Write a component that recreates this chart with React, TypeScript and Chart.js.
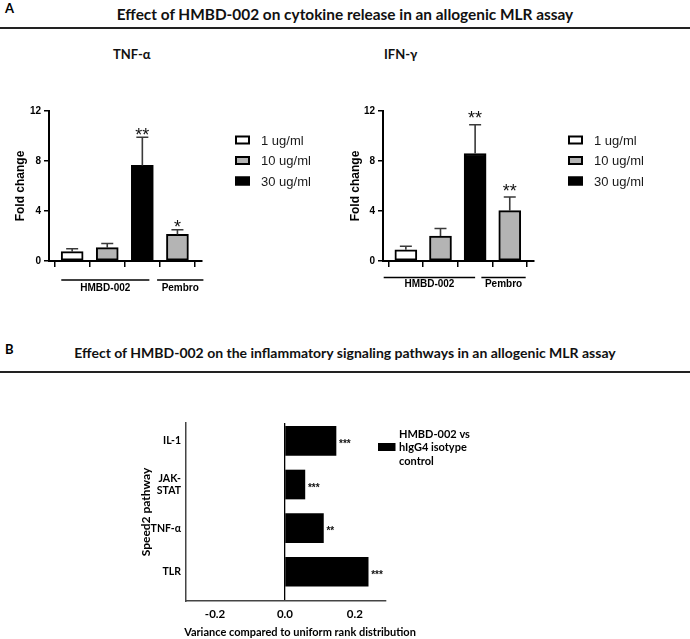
import React, { useEffect, useRef } from 'react';
import { Chart, registerables } from 'chart.js';

Chart.register(...registerables);

// ---------- Panel A data ----------
const concentrationLabels = ['1 ug/ml', '10 ug/ml', '30 ug/ml'];
const concentrationColors = ['#ffffff', '#b4b4b4', '#000000'];
const barCategories = ['HMBD-002 1 ug/ml', 'HMBD-002 10 ug/ml', 'HMBD-002 30 ug/ml', 'Pembro 10 ug/ml'];
const barConcentration = [0, 1, 2, 1];
const groupLabels = ['HMBD-002', 'Pembro'];
const foldTicks = [0, 4, 8, 12];

const tnfMeans = [0.75, 1.07, 7.65, 2.13];
const tnfErrors = [0.23, 0.33, 2.25, 0.37];
const tnfStars = ['', '', '**', '*'];

const ifnMeans = [0.9, 2.0, 8.6, 4.03];
const ifnErrors = [0.28, 0.6, 2.3, 1.09];
const ifnStars = ['', '', '**', '**'];

// ---------- Panel B data ----------
const pathways = ['IL-1', 'JAK-STAT', 'TNF-α', 'TLR'];
const pathwayTickLines = [['IL-1'], ['JAK-', 'STAT'], ['TNF-α'], ['TLR']];
const pathwayValues = [0.146, 0.057, 0.11, 0.238];
const pathwayStars = ['***', '***', '**', '***'];
const varianceTicks = [-0.2, 0, 0.2];
const seriesBLines = ['HMBD-002 vs', 'hIgG4 isotype', 'control'];
const varianceTitle = 'Variance compared to uniform rank distribution';

const ARIAL = '"Liberation Sans", Arial, sans-serif';
const CAL = 'Lato, "Open Sans", sans-serif';

type FoldCfg = {
  means: number[];
  errors: number[];
  stars: string[];
  yWidth: number;
  yTitlePad: number;
  padRight: number;
  legendDx: number;
  groupSpans: [number, number][];
  groupLineDy: number;
  groupLabelDy: number;
  starGap: number;
};

function foldChartConfig(cfg: FoldCfg): any {
  const annot = {
    id: 'annot',
    afterDatasetsDraw(chart: any) {
      const ctx = chart.ctx;
      const xs = chart.scales.x;
      const ys = chart.scales.y;
      const ca = chart.chartArea;
      ctx.save();
      // error bars + stars
      cfg.means.forEach((m, i) => {
        const x = xs.getPixelForValue(i);
        const yb = ys.getPixelForValue(m);
        const yt = ys.getPixelForValue(m + cfg.errors[i]);
        ctx.strokeStyle = '#3a3a3a';
        ctx.lineWidth = 1.6;
        ctx.beginPath();
        ctx.moveTo(x, yb);
        ctx.lineTo(x, yt);
        ctx.moveTo(x - 6, yt);
        ctx.lineTo(x + 6, yt);
        ctx.stroke();
        if (cfg.stars[i]) {
          ctx.fillStyle = '#111';
          ctx.font = `18px ${ARIAL}`;
          ctx.textAlign = 'center';
          ctx.textBaseline = 'alphabetic';
          ctx.fillText(cfg.stars[i], x, yt - cfg.starGap + 10.3);
        }
      });
      // group lines
      ctx.strokeStyle = '#000';
      ctx.lineWidth = 1.5;
      ctx.fillStyle = '#000';
      ctx.font = `bold 10px ${ARIAL}`;
      ctx.textAlign = 'center';
      ctx.textBaseline = 'middle';
      cfg.groupSpans.forEach((span, g) => {
        const x0 = xs.getPixelForValue(span[0]);
        const x1 = xs.getPixelForValue(span[1]);
        const yl = ca.bottom + cfg.groupLineDy;
        ctx.beginPath();
        ctx.moveTo(x0, yl);
        ctx.lineTo(x1, yl);
        ctx.stroke();
        ctx.fillText(groupLabels[g], (x0 + x1) / 2, ca.bottom + cfg.groupLabelDy);
      });
      // legend
      concentrationLabels.forEach((lab, i) => {
        const lx = ca.right + cfg.legendDx;
        const ly = ca.top + 29 + i * 20.5;
        ctx.fillStyle = concentrationColors[i];
        ctx.fillRect(lx, ly - 4.5, 15, 9);
        ctx.strokeStyle = '#000';
        ctx.lineWidth = 2;
        ctx.strokeRect(lx + 1, ly - 3.5, 13, 7);
        ctx.fillStyle = '#1a1a1a';
        ctx.font = `13px ${ARIAL}`;
        ctx.textAlign = 'left';
        ctx.textBaseline = 'middle';
        ctx.fillText(lab, lx + 26, ly + 1);
      });
      ctx.restore();
    },
  };

  return {
    type: 'bar',
    data: {
      labels: barCategories,
      datasets: [
        {
          label: 'Fold change',
          data: cfg.means.map((v, i) => ({ x: i, y: v })),
          backgroundColor: barConcentration.map((c) => concentrationColors[c]),
          borderColor: '#000',
          borderWidth: 2,
          borderSkipped: false,
          barThickness: 22,
        },
      ],
    },
    options: {
      responsive: false,
      animation: false,
      devicePixelRatio: 1,
      layout: { padding: { top: 16, right: cfg.padRight, left: 0, bottom: 0 } },
      plugins: { legend: { display: false }, tooltip: { enabled: false } },
      scales: {
        x: {
          type: 'linear',
          offset: false,
          min: -0.66,
          max: 3.7,
          afterBuildTicks: (s: any) => {
            s.ticks = [0, 1, 2, 3].map((v) => ({ value: v }));
          },
          afterFit: (s: any) => {
            s.height = 49;
          },
          grid: { drawOnChartArea: false, drawTicks: true, tickLength: 6, color: '#000', lineWidth: 1.5 },
          border: { color: '#000', width: 2 },
          ticks: { callback: () => '', padding: 0 },
        },
        y: {
          min: 0,
          max: 12,
          afterBuildTicks: (s: any) => {
            s.ticks = foldTicks.map((v) => ({ value: v }));
          },
          afterFit: (s: any) => {
            s.width = cfg.yWidth;
          },
          grid: { drawOnChartArea: false, drawTicks: true, tickLength: 5, color: '#000', lineWidth: 1.5 },
          border: { color: '#000', width: 2 },
          ticks: { font: { family: ARIAL, weight: 'bold', size: 10 }, color: '#000', padding: 3 },
          title: {
            display: true,
            text: 'Fold change',
            font: { family: ARIAL, weight: 'bold', size: 12 },
            color: '#000',
            padding: { top: cfg.yTitlePad, bottom: 0 },
          },
        },
      },
    },
    plugins: [annot],
  };
}

function pathwayChartConfig(): any {
  const annot = {
    id: 'annotB',
    afterDatasetsDraw(chart: any) {
      const ctx = chart.ctx;
      const xs = chart.scales.x;
      const ys = chart.scales.y;
      const ca = chart.chartArea;
      ctx.save();
      pathwayValues.forEach((v, i) => {
        const x = xs.getPixelForValue(v);
        const y = ys.getPixelForValue(i);
        ctx.fillStyle = '#111';
        ctx.font = `bold 10px ${ARIAL}`;
        ctx.textAlign = 'left';
        ctx.textBaseline = 'alphabetic';
        ctx.fillText(pathwayStars[i], x + 3, y + 6);
      });
      // legend
      const lx = ca.right - 8;
      const ly = ca.top + 24;
      ctx.fillStyle = '#000';
      ctx.fillRect(lx, ly - 4, 17.5, 8);
      ctx.font = `bold 11px ${CAL}`;
      ctx.textAlign = 'left';
      ctx.textBaseline = 'middle';
      seriesBLines.forEach((t, k) => {
        ctx.fillText(t, lx + 21, ly - 13 + k * 13.5);
      });
      // axis title
      ctx.font = `bold 11px ${CAL}`;
      ctx.textAlign = 'center';
      ctx.textBaseline = 'middle';
      ctx.fillText(varianceTitle, ca.left + 114, ca.bottom + 31);
      ctx.restore();
    },
  };

  return {
    type: 'bar',
    data: {
      labels: pathways,
      datasets: [
        {
          label: seriesBLines.join(' '),
          data: pathwayValues.map((v, i) => ({ x: v, y: i })),
          backgroundColor: '#000',
          borderWidth: 0,
          barThickness: 29,
        },
      ],
    },
    options: {
      indexAxis: 'y',
      responsive: false,
      animation: false,
      devicePixelRatio: 1,
      layout: { padding: { top: 18, right: 144, left: 0, bottom: 0 } },
      plugins: { legend: { display: false }, tooltip: { enabled: false } },
      scales: {
        x: {
          type: 'linear',
          offset: false,
          min: -0.283,
          max: 0.289,
          afterBuildTicks: (s: any) => {
            s.ticks = varianceTicks.map((v) => ({ value: v }));
          },
          afterFit: (s: any) => {
            s.height = 38;
          },
          grid: {
            drawOnChartArea: true,
            drawTicks: false,
            color: (c: any) => (c.tick && Math.abs(c.tick.value) < 1e-9 ? '#000' : 'rgba(0,0,0,0)'),
            lineWidth: 1.3,
          },
          border: { color: '#444', width: 1.5 },
          ticks: {
            font: { family: CAL, weight: 'bold', size: 11.5 },
            color: '#000',
            padding: 6,
            callback: (v: any) => Number(v).toFixed(1),
          },
        },
        y: {
          type: 'linear',
          offset: false,
          reverse: true,
          min: -0.41,
          max: 3.67,
          afterBuildTicks: (s: any) => {
            s.ticks = [0, 1, 2, 3].map((v) => ({ value: v }));
          },
          afterFit: (s: any) => {
            s.width = 56;
          },
          grid: { drawOnChartArea: false, drawTicks: false },
          border: { color: '#444', width: 1.5 },
          ticks: {
            font: { family: CAL, weight: 'bold', size: 10.5 },
            color: '#000',
            padding: 5,
            callback: (v: any) => pathwayTickLines[Math.round(Number(v))] || '',
          },
          title: {
            display: true,
            text: 'Speed2 pathway',
            font: { family: CAL, weight: 'bold', size: 12 },
            color: '#000',
            padding: { top: 9, bottom: 0 },
          },
        },
      },
    },
    plugins: [annot],
  };
}

function ChartCanvas({ config, left, top, width, height }: any) {
  const ref = useRef<HTMLCanvasElement | null>(null);
  useEffect(() => {
    if (!ref.current) return;
    const chart = new Chart(ref.current, config());
    return () => chart.destroy();
  }, []);
  return (
    <canvas
      ref={ref}
      width={width}
      height={height}
      style={{ position: 'absolute', left, top, width, height }}
    />
  );
}

const headerStyle: React.CSSProperties = {
  position: 'absolute',
  left: 0,
  width: 690,
  textAlign: 'center',
  fontFamily: CAL,
  fontWeight: 700,
  fontSize: 14,
  lineHeight: '16px',
  color: '#111',
  whiteSpace: 'nowrap',
};

export default function App() {
  useEffect(() => {
    document.body.style.margin = '0';
  }, []);
  return (
    <div style={{ position: 'absolute', left: 0, top: 0, width: 690, height: 639, background: '#fff', overflow: 'hidden' }}>
      <div style={{ position: 'absolute', left: 5, top: 1, fontFamily: CAL, fontWeight: 700, fontSize: 13, lineHeight: '14px' }}>A</div>
      <div style={{ ...headerStyle, top: 5, fontSize: 15.4, lineHeight: '18px' }}>
        Effect of HMBD-002 on cytokine release in an allogenic MLR assay
      </div>
      <div style={{ position: 'absolute', left: 0, top: 27, width: 690, height: 2, background: '#222' }} />
      <div style={{ ...headerStyle, width: 'auto', left: 113, top: 46, fontSize: 13 }}>TNF-α</div>
      <div style={{ ...headerStyle, width: 'auto', left: 384, top: 46, fontSize: 13 }}>IFN-γ</div>

      <ChartCanvas
        left={0}
        top={95}
        width={345}
        height={215}
        config={() =>
          foldChartConfig({
            means: tnfMeans,
            errors: tnfErrors,
            stars: tnfStars,
            yWidth: 49,
            yTitlePad: 13,
            padRight: 143,
            legendDx: 33,
            groupSpans: [
              [-0.31, 2.2],
              [2.42, 3.74],
            ],
            groupLineDy: 19,
            groupLabelDy: 27,
            starGap: 7,
          })
        }
      />
      <ChartCanvas
        left={340}
        top={95}
        width={350}
        height={215}
        config={() =>
          foldChartConfig({
            means: ifnMeans,
            errors: ifnErrors,
            stars: ifnStars,
            yWidth: 43,
            yTitlePad: 8,
            padRight: 156,
            legendDx: 34,
            groupSpans: [
              [-0.64, 2.0],
              [2.18, 3.46],
            ],
            groupLineDy: 16.5,
            groupLabelDy: 23.5,
            starGap: 10.7,
          })
        }
      />

      <div style={{ position: 'absolute', left: 5, top: 342, fontFamily: CAL, fontWeight: 700, fontSize: 13, lineHeight: '14px' }}>B</div>
      <div style={{ ...headerStyle, top: 345 }}>
        Effect of HMBD-002 on the inflammatory signaling pathways in an allogenic MLR assay
      </div>
      <div style={{ position: 'absolute', left: 0, top: 371, width: 690, height: 2, background: '#222' }} />

      <ChartCanvas left={130} top={405} width={400} height={234} config={pathwayChartConfig} />
    </div>
  );
}
